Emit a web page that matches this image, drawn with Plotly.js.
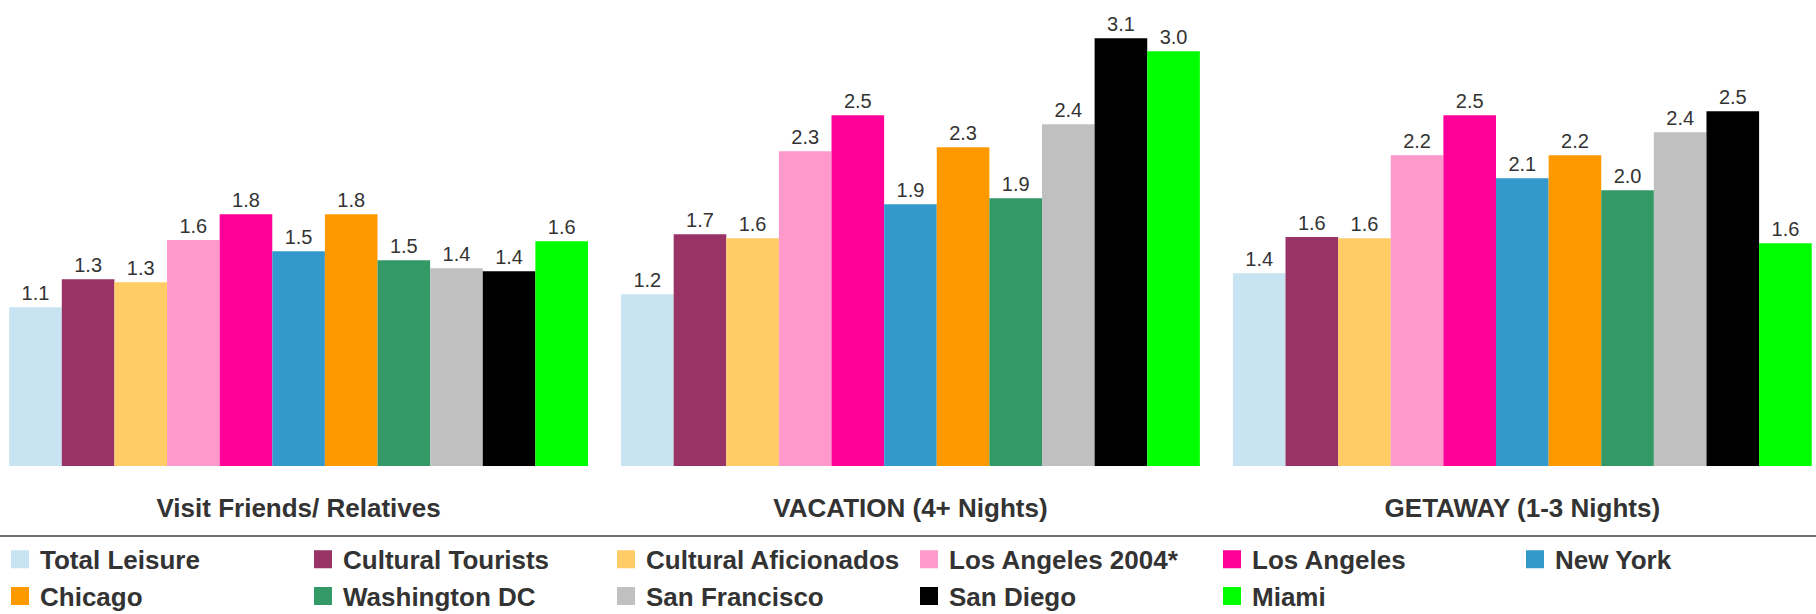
<!DOCTYPE html>
<html>
<head>
<meta charset="utf-8">
<script src="https://cdn.plot.ly/plotly-3.0.1.min.js"></script>
<style>html,body{margin:0;padding:0;background:#fff;}</style>
</head>
<body>
<div id="chart" style="width:1816px;height:614px;"></div>
<script>
// ---- data ----
const categories = ["Visit Friends/ Relatives", "VACATION (4+ Nights)", "GETAWAY (1-3 Nights)"];
const seriesNames = ["Total Leisure", "Cultural Tourists", "Cultural Aficionados", "Los Angeles 2004*",
  "Los Angeles", "New York", "Chicago", "Washington DC", "San Francisco", "San Diego", "Miami"];

const totalLeisure        = [1.137, 1.230, 1.380];
const culturalTourists    = [1.337, 1.660, 1.640];
const culturalAficionados = [1.316, 1.631, 1.631];
const losAngeles2004      = [1.619, 2.254, 2.226];
const losAngeles          = [1.803, 2.512, 2.512];
const newYork             = [1.538, 1.875, 2.061];
const chicago             = [1.803, 2.283, 2.226];
const washingtonDC        = [1.473, 1.918, 1.975];
const sanFrancisco        = [1.416, 2.448, 2.390];
const sanDiego            = [1.395, 3.064, 2.541];
const miami               = [1.610, 2.971, 1.595];

const seriesValues = [totalLeisure, culturalTourists, culturalAficionados, losAngeles2004, losAngeles,
  newYork, chicago, washingtonDC, sanFrancisco, sanDiego, miami];

// ---- styles ----
const seriesColors = ["#C8E3F1", "#993366", "#FFCC66", "#FF99CC", "#FF0099",
  "#3399CC", "#FF9900", "#339966", "#C0C0C0", "#000000", "#00FF00"];

const FONT = 'Arial, "Liberation Sans", sans-serif';
const TEXT = '#333333';

const barTraces = seriesNames.map((name, i) => ({
  type: 'bar',
  name: name,
  x: categories,
  y: seriesValues[i],
  marker: {color: seriesColors[i], line: {width: 0}},
  texttemplate: '%{y:.1f}',
  textposition: 'outside',
  textfont: {family: FONT, size: 20, color: TEXT},
  cliponaxis: false,
  constraintext: 'none',
  showlegend: false,
  hoverinfo: 'skip'
}));

const legendTraces = seriesNames.map((name, i) => ({
  type: 'scatter',
  mode: 'markers',
  name: name,
  x: [null],
  y: [null],
  marker: {symbol: 'square', size: 16, color: seriesColors[i], line: {color: seriesColors[i], width: 2}},
  showlegend: true,
  hoverinfo: 'skip'
}));

const layout = {
  width: 1816,
  height: 614,
  margin: {l: 0, r: 0, t: 0, b: 148, autoexpand: false},
  paper_bgcolor: '#ffffff',
  plot_bgcolor: '#ffffff',
  barmode: 'group',
  bargap: 0.054,
  bargroupgap: 0,
  font: {family: FONT, color: TEXT},
  xaxis: {
    type: 'category',
    range: [-0.488, 2.480],
    showgrid: false, zeroline: false, showline: false, ticks: '',
    tickfont: {family: FONT, size: 26, weight: 'bold', color: TEXT},
    ticklabelstandoff: 24,
    fixedrange: true
  },
  yaxis: {range: [0, 3.338], visible: false, fixedrange: true},
  showlegend: true,
  legend: {
    orientation: 'h',
    x: 0, xanchor: 'left',
    y: -0.15, yanchor: 'top',
    entrywidth: 258, entrywidthmode: 'pixels',
    itemsizing: 'trace',
    font: {family: FONT, size: 26, weight: 'bold', color: TEXT},
    bgcolor: 'rgba(0,0,0,0)',
    borderwidth: 0
  },
  shapes: [{
    type: 'line', xref: 'paper', yref: 'paper',
    x0: 0, x1: 1, y0: -0.1502, y1: -0.1502,
    line: {color: '#404040', width: 1.5}
  }]
};

Plotly.newPlot('chart', barTraces.concat(legendTraces), layout, {displayModeBar: false, staticPlot: true});
</script>
</body>
</html>
